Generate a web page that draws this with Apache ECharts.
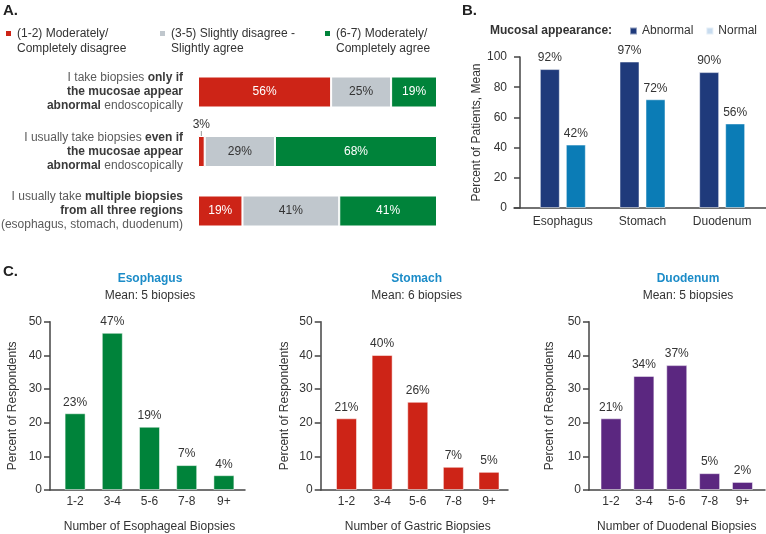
<!DOCTYPE html>
<html><head><meta charset="utf-8">
<script src="https://cdn.jsdelivr.net/npm/echarts@6/dist/echarts.min.js"></script>
<style>html,body{margin:0;padding:0;background:#fff}#c{width:766px;height:534px}</style>
</head><body><div id="c"></div>
<script>
const FONT = '"Liberation Sans", Arial, sans-serif';
// ---------- Panel A data ----------
const statements = [
  '{n|I take biopsies }{b|only if}\n{b|the mucosae appear}\n{b|abnormal}{n| endoscopically}',
  '{n|I usually take biopsies }{b|even if}\n{b|the mucosae appear}\n{b|abnormal}{n| endoscopically}',
  '{n|I usually take }{b|multiple biopsies}\n{b|from all three regions}\n{n|(esophagus, stomach, duodenum)}'
];
const agreementNames = ['(1-2) Moderately/\nCompletely disagree', '(3-5) Slightly disagree -\nSlightly agree', '(6-7) Moderately/\nCompletely agree'];
const disagree = [55.7, 2.8, 18.6];
const neutral = [25.1, 29.4, 40.5];
const agree = [19.2, 67.8, 40.9];
// ---------- Panel B data ----------
const regions = ['Esophagus', 'Stomach', 'Duodenum'];
const abnormal = [92, 97, 90];
const normal = [42, 72, 56];
// ---------- Panel C data ----------
const bins = ['1-2', '3-4', '5-6', '7-8', '9+'];
const esophageal = [22.8, 46.7, 18.8, 7.4, 4.4];
const gastric = [21.3, 40.1, 26.2, 6.9, 5.4];
const duodenal = [21.3, 33.9, 37.1, 5.0, 2.4];
const panelCTitles = ['Esophagus', 'Stomach', 'Duodenum'];
const panelCMeans = ['Mean: 5 biopsies', 'Mean: 6 biopsies', 'Mean: 5 biopsies'];
const panelCXNames = ['Number of Esophageal Biopsies', 'Number of Gastric Biopsies', 'Number of Duodenal Biopsies'];
const yTicksC = [0, 10, 20, 30, 40, 50];
const yTicksB = [0, 20, 40, 60, 80, 100];

const COL = {red: '#cd2417', grey: '#c0c7cd', green: '#00833a', navy: '#1f3a7b', blue: '#0b7cb6',
  purple: '#5b2780', title: '#1c8cc8', normalLegend: '#c8dcef', text: '#333', axis: '#444'};
const pct = p => Math.round(p.value) + '%';

const cLayout = [
  {left: 56.5, right: 523.5, axisX: 50, end: 245, offset: 6.5, nameGap: 31, cx: 150},
  {left: 328.7, right: 259.2, axisX: 320.7, end: 508, offset: 8, nameGap: 30, cx: 416.7},
  {left: 594.6, right: 7.1, axisX: 589, end: 765, offset: 5.6, nameGap: 33, cx: 688}
];
const cData = [esophageal, gastric, duodenal];
const cColors = [COL.green, COL.red, COL.purple];

const grid = [
  {left: 198, right: 329, top: 62.25, height: 178.5, outerBoundsMode: 'none'},
  {left: 523, right: 4, top: 57, bottom: 326, outerBoundsMode: 'none'},
  {left: 514, right: 0, top: 57, bottom: 326, outerBoundsMode: 'none'}
];
const xAxis = [
  {gridIndex: 0, type: 'value', min: 0, max: 100, show: false},
  {gridIndex: 1, type: 'category', data: regions, axisLine: {show: false}, axisTick: {show: false},
   axisLabel: {fontSize: 12, color: COL.text, margin: 8, fontFamily: FONT}},
  {gridIndex: 2, type: 'value', min: 0, max: 1, axisLine: {show: true, onZero: false, lineStyle: {color: COL.axis, width: 1.5}},
   axisLabel: {show: false}, axisTick: {show: false}, splitLine: {show: false}}
];
const yAxis = [
  {gridIndex: 0, type: 'category', data: statements, inverse: true, axisLine: {show: false}, axisTick: {show: false},
   axisLabel: {margin: 15, align: 'right', fontFamily: FONT,
     rich: {n: {fontSize: 12, color: '#5a5a5a', lineHeight: 14, fontFamily: FONT},
            b: {fontSize: 12, color: '#3a3a3a', fontWeight: 'bold', lineHeight: 14, fontFamily: FONT}}}},
  {gridIndex: 1, type: 'value', min: yTicksB[0], max: yTicksB[yTicksB.length - 1], interval: yTicksB[1] - yTicksB[0], offset: 3,
   axisLine: {show: true, lineStyle: {color: COL.axis, width: 1.5}}, axisTick: {show: true, length: 6, lineStyle: {color: COL.axis, width: 1.5}},
   splitLine: {show: false}, axisLabel: {fontSize: 12, color: COL.text, margin: 13, fontFamily: FONT},
   name: 'Percent of Patients, Mean', nameLocation: 'middle', nameGap: 37, nameTextStyle: {fontSize: 12, color: COL.text, fontFamily: FONT}},
  {gridIndex: 2, type: 'value', show: false}
];
const series = [
  {name: agreementNames[0], type: 'bar', stack: 'a', xAxisIndex: 0, yAxisIndex: 0, barWidth: 31,
   itemStyle: {color: COL.red, borderColor: '#fff', borderWidth: 1},
   label: {show: true, position: 'inside', color: '#fff', fontSize: 12, fontFamily: FONT, formatter: pct},
   labelLine: {show: true, lineStyle: {color: '#999', width: 1}},
   labelLayout: p => (p.dataIndex === 1 ? {dy: -5} : {}),
   data: disagree.map((v, i) => i === 1 ? {value: v, label: {position: 'top', distance: 0, color: COL.text}} : v)},
  {name: agreementNames[1], type: 'bar', stack: 'a', xAxisIndex: 0, yAxisIndex: 0, barWidth: 31,
   itemStyle: {color: COL.grey, borderColor: '#fff', borderWidth: 1},
   label: {show: true, position: 'inside', color: COL.text, fontSize: 12, fontFamily: FONT, formatter: pct}, data: neutral},
  {name: agreementNames[2], type: 'bar', stack: 'a', xAxisIndex: 0, yAxisIndex: 0, barWidth: 31,
   itemStyle: {color: COL.green, borderColor: '#fff', borderWidth: 1},
   label: {show: true, position: 'inside', color: '#fff', fontSize: 12, fontFamily: FONT, formatter: pct}, data: agree},
  {name: 'Abnormal', type: 'bar', xAxisIndex: 1, yAxisIndex: 1, barWidth: 20, barGap: '30%',
   itemStyle: {color: COL.navy, borderColor: 'rgba(255,255,255,0.5)', borderWidth: 1},
   label: {show: true, position: 'top', distance: 5, fontSize: 12, color: COL.text, fontFamily: FONT, formatter: pct}, data: abnormal},
  {name: 'Normal', type: 'bar', xAxisIndex: 1, yAxisIndex: 1, barWidth: 20, barGap: '30%',
   itemStyle: {color: COL.blue, borderColor: 'rgba(255,255,255,0.5)', borderWidth: 1},
   label: {show: true, position: 'top', distance: 5, fontSize: 12, color: COL.text, fontFamily: FONT, formatter: pct}, data: normal}
];
const graphic = [
  {type: 'text', left: 3, top: 3, style: {text: 'A.', font: 'bold 15px ' + FONT, fill: '#222'}},
  {type: 'text', left: 462, top: 3, style: {text: 'B.', font: 'bold 15px ' + FONT, fill: '#222'}},
  {type: 'text', left: 3, top: 264, style: {text: 'C.', font: 'bold 15px ' + FONT, fill: '#222'}},
  {type: 'text', x: 490, y: 31, style: {text: 'Mucosal appearance:', font: 'bold 12px ' + FONT, fill: '#333', verticalAlign: 'middle'}}
];

cLayout.forEach((L, k) => {
  const g = grid.length;
  grid.push({left: L.left, right: L.right, top: 321.7, bottom: 44, outerBoundsMode: 'none'});
  grid.push({left: L.axisX, right: 766 - L.end, top: 321.7, bottom: 44, outerBoundsMode: 'none'});
  const xi = xAxis.length;
  xAxis.push({gridIndex: g, type: 'category', data: bins, axisLine: {show: false}, axisTick: {show: false},
    axisLabel: {fontSize: 12, color: COL.text, margin: 6, fontFamily: FONT},
    name: panelCXNames[k], nameLocation: 'middle', nameGap: 31, nameTextStyle: {fontSize: 12, color: COL.text, fontFamily: FONT}});
  xAxis.push({gridIndex: g + 1, type: 'value', min: 0, max: 1, axisLine: {show: true, onZero: false, lineStyle: {color: COL.axis, width: 1.5}},
    axisLabel: {show: false}, axisTick: {show: false}, splitLine: {show: false}});
  const yi = yAxis.length;
  yAxis.push({gridIndex: g, type: 'value', min: yTicksC[0], max: yTicksC[yTicksC.length - 1], interval: yTicksC[1] - yTicksC[0], offset: L.offset,
    axisLine: {show: true, lineStyle: {color: COL.axis, width: 1.5}}, axisTick: {show: true, length: 6, lineStyle: {color: COL.axis, width: 1.5}},
    splitLine: {show: false}, axisLabel: {fontSize: 12, color: COL.text, margin: 8, fontFamily: FONT},
    name: 'Percent of Respondents', nameLocation: 'middle', nameGap: L.nameGap, nameTextStyle: {fontSize: 12, color: COL.text, fontFamily: FONT}});
  yAxis.push({gridIndex: g + 1, type: 'value', show: false});
  series.push({name: panelCTitles[k] + ' biopsies', type: 'bar', xAxisIndex: xi, yAxisIndex: yi, barWidth: 21,
    itemStyle: {color: cColors[k], borderColor: 'rgba(255,255,255,0.5)', borderWidth: 1},
    label: {show: true, position: 'top', distance: 5, fontSize: 12, color: COL.text, fontFamily: FONT, formatter: pct},
    data: cData[k]});
  graphic.push({type: 'text', x: L.cx, y: 279, style: {text: panelCTitles[k], font: 'bold 12px ' + FONT, fill: COL.title, align: 'center', verticalAlign: 'middle'}});
  graphic.push({type: 'text', x: L.cx, y: 296, style: {text: panelCMeans[k], font: '12px ' + FONT, fill: COL.text, align: 'center', verticalAlign: 'middle'}});
});

const legLeft = [4, 158, 323];
const legend = agreementNames.map((n, i) => ({
  data: [n], left: legLeft[i], top: 11, padding: 0, icon: 'rect', itemWidth: 7, itemHeight: 7, selectedMode: false,
  formatter: name => '\n' + name,
  textStyle: {fontSize: 12, color: COL.text, lineHeight: 15, fontFamily: FONT}
}));
legend.push({data: [{name: 'Abnormal'}, {name: 'Normal', itemStyle: {color: COL.normalLegend}}],
  left: 629, top: 25, padding: 0, icon: 'rect', itemWidth: 7, itemHeight: 7, itemGap: 12, selectedMode: false,
  textStyle: {fontSize: 12, color: COL.text, fontFamily: FONT}});

const chart = echarts.init(document.getElementById('c'), null, {renderer: 'canvas'});
chart.setOption({animation: false, textStyle: {fontFamily: FONT}, grid, xAxis, yAxis, series, legend, graphic});
</script></body></html>
